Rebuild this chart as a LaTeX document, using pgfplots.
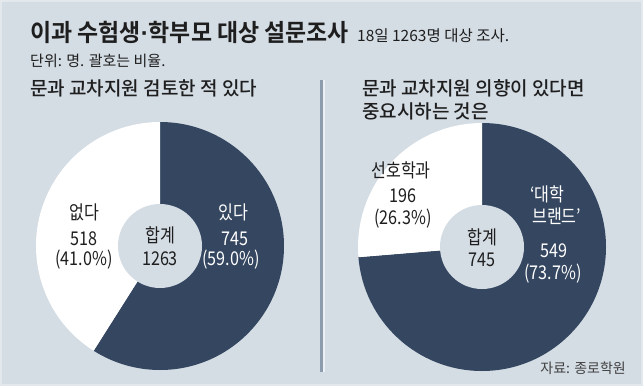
\documentclass[border=0pt]{standalone}
\usepackage{pgfplots}
\pgfplotsset{compat=1.18}
\usepackage{pgfplotstable}
\usepackage{fontspec}
\setmainfont{Noto Sans CJK KR}
\newfontfamily\kr{Noto Sans CJK KR}
\newfontfamily\krbt[FakeStretch=0.955]{Noto Sans CJK KR Bold}
\newfontfamily\krm{Noto Sans CJK KR Medium}
\newfontfamily\krc[FakeStretch=0.85]{Noto Sans CJK KR}
\newfontfamily\latb{Liberation Sans Bold}
\definecolor{bg}{HTML}{D4DCE4}
\definecolor{navy}{HTML}{344660}
\definecolor{sep}{HTML}{8C9CAC}
\definecolor{ink}{HTML}{1E1E1E}

\pgfplotstableread{
group value
yes 745
no 518
}\tableA
\pgfplotstableread{
group value
brand 549
major 196
}\tableB

\pgfplotstablegetelem{0}{value}\of\tableA \edef\aYes{\pgfplotsretval}
\pgfplotstablegetelem{1}{value}\of\tableA \edef\aNo{\pgfplotsretval}
\pgfplotstablegetelem{0}{value}\of\tableB \edef\bBrand{\pgfplotsretval}
\pgfplotstablegetelem{1}{value}\of\tableB \edef\bMajor{\pgfplotsretval}
\pgfmathsetmacro\fracA{\aYes/(\aYes+\aNo)}
\pgfmathsetmacro\fracB{\bBrand/(\bBrand+\bMajor)}
\pgfmathsetmacro\angA{90-360*\fracA}
\pgfmathsetmacro\angB{90-360*\fracB}

\newcommand\fs[1]{\fontsize{#1}{#1}\selectfont}

\begin{document}
\begin{tikzpicture}
\begin{axis}[
  x=1pt, y=1pt,
  xmin=0, xmax=643, ymin=0, ymax=386,
  y dir=reverse,
  hide axis, clip=false,
]
% background
\fill[bg] (axis cs:0,0) rectangle (axis cs:643,386);
\draw[line width=2pt, white!35!bg] (axis cs:1,1) rectangle (axis cs:642,385);

% left donut
\fill[navy] (axis cs:160,246) -- ++(90:124pt) arc[start angle=90, end angle=\angA, radius=124pt] -- cycle;
\fill[white] (axis cs:160,246) -- ++(\angA:124pt) arc[start angle=\angA, end angle=-270, radius=124pt] -- cycle;
\fill[bg] (axis cs:160,246) circle[radius=42pt];

% right donut
\fill[navy] (axis cs:482,247) -- ++(90:124pt) arc[start angle=90, end angle=\angB, radius=124pt] -- cycle;
\fill[white] (axis cs:482,247) -- ++(\angB:124pt) arc[start angle=\angB, end angle=-270, radius=124pt] -- cycle;
\fill[bg] (axis cs:482,247) circle[radius=42pt];

% separator
\fill[sep] (axis cs:320,80) rectangle (axis cs:323,372);
\fill[white!55!bg] (axis cs:323,80) rectangle (axis cs:325,372);

% titles
\node[anchor=base west, inner sep=0, text=ink, font=\krbt\fs{24}] at (axis cs:30,41) {이과 수험생{\latb ·}학부모 대상 설문조사};
\node[anchor=base west, inner sep=0, text=ink, font=\kr\fs{15.5}] at (axis cs:357,41) {18일 1263명 대상 조사.};
\node[anchor=base west, inner sep=0, text=ink, font=\kr\fs{15}] at (axis cs:30,66) {단위: 명. 괄호는 비율.};
\node[anchor=base west, inner sep=0, text=ink, font=\krm\fs{19}] at (axis cs:30,95) {문과 교차지원 검토한 적 있다};
\node[anchor=base west, inner sep=0, text=ink, font=\krm\fs{19}] at (axis cs:362,95) {문과 교차지원 의향이 있다면};
\node[anchor=base west, inner sep=0, text=ink, font=\krm\fs{19}] at (axis cs:362,118) {중요시하는 것은};

% left donut labels
\node[anchor=base, inner sep=0, text=ink, font=\krc\fs{19}] at (axis cs:84,219) {없다};
\node[anchor=base, inner sep=0, text=ink, font=\krc\fs{19}] at (axis cs:84,245) {518};
\node[anchor=base, inner sep=0, text=ink, font=\krc\fs{19}] at (axis cs:84,265) {(41.0\%)};
\node[anchor=base, inner sep=0, text=ink, font=\krc\fs{19}] at (axis cs:160,242) {합계};
\node[anchor=base, inner sep=0, text=ink, font=\krc\fs{19}] at (axis cs:160,265) {1263};
\node[anchor=base, inner sep=0, text=white, font=\krc\fs{19}] at (axis cs:233,219) {있다};
\node[anchor=base, inner sep=0, text=white, font=\krc\fs{19}] at (axis cs:235,245) {745};
\node[anchor=base, inner sep=0, text=white, font=\krc\fs{19}] at (axis cs:231,265) {(59.0\%)};

% right donut labels
\node[anchor=base, inner sep=0, text=ink, font=\krc\fs{19}] at (axis cs:401,177) {선호학과};
\node[anchor=base, inner sep=0, text=ink, font=\krc\fs{19}] at (axis cs:403,202) {196};
\node[anchor=base, inner sep=0, text=ink, font=\krc\fs{19}] at (axis cs:403,224) {(26.3\%)};
\node[anchor=base, inner sep=0, text=ink, font=\krc\fs{19}] at (axis cs:482,244) {합계};
\node[anchor=base, inner sep=0, text=ink, font=\krc\fs{19}] at (axis cs:482,266) {745};
\node[anchor=base west, inner sep=0, text=white, font=\krc\fs{19}] at (axis cs:530,201) {‘대학};
\node[anchor=base west, inner sep=0, text=white, font=\krc\fs{19}] at (axis cs:532,223) {브랜드’};
\node[anchor=base, inner sep=0, text=white, font=\krc\fs{19}] at (axis cs:554,257) {549};
\node[anchor=base, inner sep=0, text=white, font=\krc\fs{19}] at (axis cs:553,279) {(73.7\%)};

% source
\node[anchor=base east, inner sep=0, text=ink!85, font=\kr\fs{14}] at (axis cs:626,373) {자료: 종로학원};
\end{axis}
\end{tikzpicture}
\end{document}
